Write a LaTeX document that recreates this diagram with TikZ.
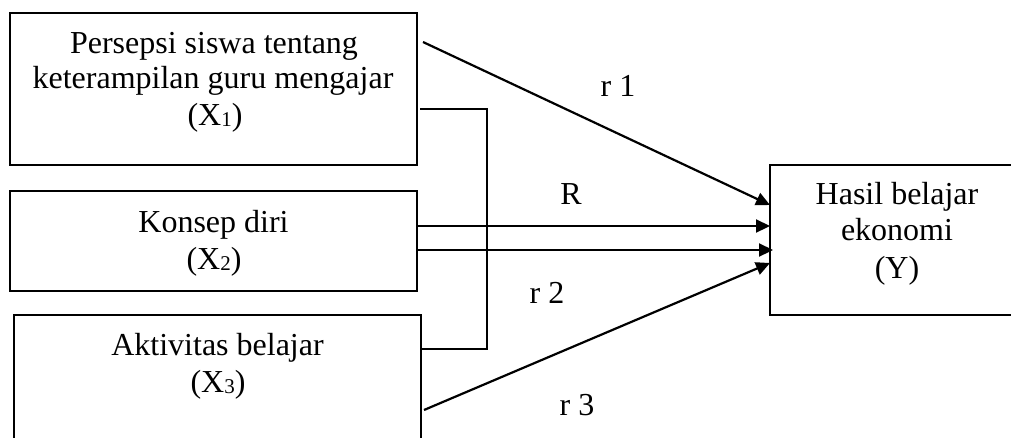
\documentclass[tikz,border=0pt]{standalone}
\usepackage{fontspec}
\setmainfont{Liberation Serif}
\usetikzlibrary{arrows.meta}
\newcommand\subd[1]{\raisebox{-1pt}{\fontsize{21}{21}\selectfont #1}}
\tikzset{
  box/.style={draw, line width=1.6pt, inner sep=0pt},
  txt/.style={anchor=base, inner sep=0pt, font=\fontsize{32}{38}\selectfont},
  conn/.style={line width=1.6pt},
  arr/.style={line width=2.2pt, -{Triangle[length=14pt,width=13pt]}}
}
\begin{document}
\begin{tikzpicture}[x=1pt,y=-1pt]
\useasboundingbox (0,0) rectangle (1011,437);
\clip (0,0) rectangle (1011,437);
% boxes
\node[box, minimum width=407pt, minimum height=152pt] (b1) at (213.5,89) {};
\node[box, minimum width=407pt, minimum height=100pt] (b2) at (213.5,241) {};
\node[box, minimum width=407pt, minimum height=160pt] (b3) at (217.5,395) {};
\node[box, minimum width=260pt, minimum height=150pt] (by) at (900,240) {};
% texts
\node[txt] (t1a) at (214,53) {Persepsi siswa tentang};
\node[txt] (t1b) at (213,88) {keterampilan guru mengajar};
\node[txt] (t1c) at (215,125) {(X\subd{1})};
\node[txt] (t2a) at (213.5,232) {Konsep diri};
\node[txt] (t2b) at (214,269) {(X\subd{2})};
\node[txt] (t3a) at (217.5,355) {Aktivitas belajar};
\node[txt] (t3b) at (218,392) {(X\subd{3})};
\node[txt] (tya) at (897,204) {Hasil belajar};
\node[txt] (tyb) at (897,240) {ekonomi};
\node[txt] (tyc) at (897,278) {(Y)};
% labels
\node[txt] (lr1) at (618,96) {r 1};
\node[txt] (lR) at (571,204) {R};
\node[txt] (lr2) at (547,303) {r 2};
\node[txt] (lr3) at (577,415) {r 3};
% connector coordinates
\coordinate (s1) at (423,42);
\coordinate (e1) at (770,205);
\coordinate (e2a) at (770,226);
\coordinate (e2b) at (773,250);
\coordinate (s3) at (424,410);
\coordinate (e3) at (770,263);
\coordinate (k1) at (420,109);
\coordinate (k2) at (421,349);
\coordinate (kc) at (487,349);
% connectors
\draw[arr] (s1) -- (e1);
\draw[arr] (b2.east |- e2a) -- (e2a);
\draw[arr] (b2.east |- e2b) -- (e2b);
\draw[arr] (s3) -- (e3);
\draw[conn] (k1) -| (kc) -- (k2);
\end{tikzpicture}
\end{document}
